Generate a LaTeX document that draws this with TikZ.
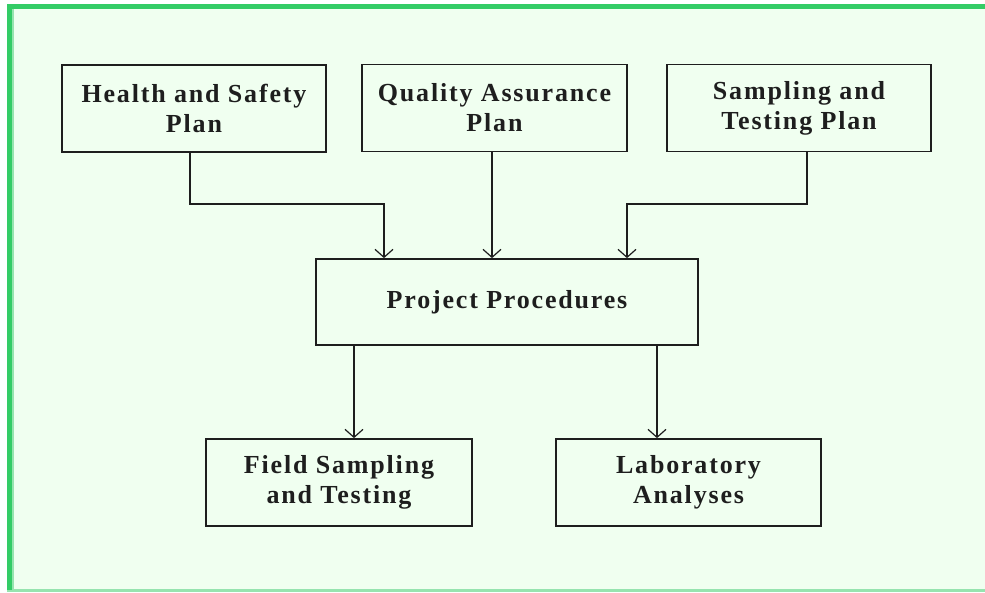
\documentclass[tikz,border=0pt]{standalone}
\usepackage{fontspec}
\setmainfont{Liberation Serif}[LetterSpace=7]
\usetikzlibrary{arrows.meta}
\definecolor{framegreen}{RGB}{51,204,102}
\definecolor{palegreen}{RGB}{150,228,175}
\definecolor{bgpale}{RGB}{240,255,240}
\definecolor{ink}{RGB}{30,30,30}
\begin{document}
\begin{tikzpicture}[x=1pt,y=-1pt,
    planbox/.style={draw=ink, line width=1.7pt, fill=bgpale, align=center,
      inner sep=0pt, minimum height=87pt, font=\bfseries\fontsize{26}{30}\selectfont, text=ink},
    arr/.style={draw=ink, line width=1.3pt, -{Straight Barb[length=8pt,width=18pt,line width=1.2pt]}}]
    \useasboundingbox (0,0) rectangle (985,592);
    % frame
    \fill[white] (0,0) rectangle (985,592);
    \fill[bgpale] (7,4) rectangle (985,592);
    \fill[palegreen] (7,589) rectangle (985,592);
    \fill[palegreen] (12,9) rectangle (13.5,589);
    \fill[framegreen] (7,4) rectangle (12,590);
    \fill[framegreen] (7,4) rectangle (985,9);
    % plans
    \node[planbox, minimum width=264pt] (hsp) at (194,108.5) {Health and Safety\\Plan};
    \node[planbox, minimum width=265pt] (qap) at (494.5,108) {Quality Assurance\\Plan};
    \node[planbox, minimum width=264pt] (stp) at (799,108) {Sampling and\\Testing Plan};
    \node[planbox, minimum width=382pt, minimum height=86pt] (pp) at (507,302) {Project Procedures};
    \node[planbox, minimum width=266pt] (fst) at (339,482.5) {Field Sampling\\and Testing};
    \node[planbox, minimum width=265pt] (la) at (688.5,482.5) {Laboratory\\Analyses};
    % connectors
    \coordinate (jh) at (384,204);
    \coordinate (js) at (627,204);
    \draw[arr] ([xshift=-4pt]hsp.south) |- (jh) -- (jh |- pp.north);
    \draw[arr] ([xshift=-2.5pt]qap.south) -- ([xshift=-2.5pt]qap.south |- pp.north);
    \draw[arr] ([xshift=8pt]stp.south) |- (js) -- (js |- pp.north);
    \draw[arr] ([xshift=-153pt]pp.south) -- ([xshift=-153pt]pp.south |- fst.north);
    \draw[arr] ([xshift=150pt]pp.south) -- ([xshift=150pt]pp.south |- la.north);
\end{tikzpicture}
\end{document}
